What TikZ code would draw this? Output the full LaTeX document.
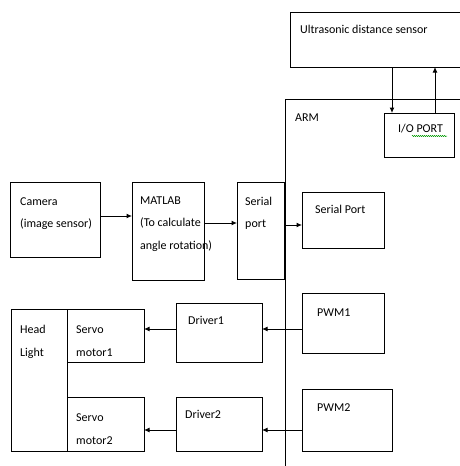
\documentclass[tikz,border=0pt]{standalone}
\usepackage{fontspec}
\setmainfont{Carlito}
\usetikzlibrary{arrows.meta,decorations.pathmorphing}
\begin{document}
\begin{tikzpicture}[x=1pt,y=-1pt,
  box/.style={draw, line width=1pt, inner sep=0pt, outer sep=0pt, anchor=north west},
  txt/.style={anchor=base west, inner sep=0pt, font=\fontsize{12}{14}\selectfont},
  arr/.style={-{Latex[length=5.5pt,width=5pt]}, line width=1pt}]
\useasboundingbox (0,0) rectangle (459,466);
% boxes
\node[box, minimum width=180pt, minimum height=55pt] (ultra) at (290,12) {};
\node[box, minimum width=185pt, minimum height=376pt] (arm) at (285,99) {};
\node[box, minimum width=70pt, minimum height=44pt] (io) at (384,113) {};
\node[box, minimum width=90pt, minimum height=75pt] (cam) at (10,182) {};
\node[box, minimum width=72pt, minimum height=98pt] (mat) at (132,182) {};
\node[box, minimum width=47pt, minimum height=97pt] (ser) at (237,182) {};
\node[box, minimum width=82pt, minimum height=56pt] (sp) at (302,192) {};
\node[box, minimum width=82pt, minimum height=60pt] (pwma) at (302,293) {};
\node[box, minimum width=90pt, minimum height=62pt] (pwmb) at (302,389) {};
\node[box, minimum width=56pt, minimum height=142pt] (hl) at (11,309) {};
\node[box, minimum width=77pt, minimum height=53pt] (sma) at (67,309) {};
\node[box, minimum width=77pt, minimum height=54pt] (smb) at (67,397) {};
\node[box, minimum width=86pt, minimum height=59pt] (dra) at (176,303) {};
\node[box, minimum width=86pt, minimum height=54pt] (drb) at (176,397) {};
% texts
\node[txt] (t1) at (300,33) {Ultrasonic distance sensor};
\node[txt] (t2) at (295,121) {ARM};
\node[txt] (t3) at (398,132) {I/O\ PORT};
\node[txt] (t4) at (20,205) {Camera};
\node[txt] (t5) at (20,227) {(image sensor)};
\node[txt] (t6) at (140,204) {MATLAB};
\node[txt] (t7) at (140,226) {(To calculate};
\node[txt] (t8) at (140,249) {angle rotation)};
\node[txt] (t9) at (245,205) {Serial};
\node[txt] (t10) at (245,227) {port};
\node[txt] (t11) at (315,213) {Serial Port};
\node[txt] (t12) at (317,316) {PWM1};
\node[txt] (t13) at (317,411) {PWM2};
\node[txt] (t14) at (20,333) {Head};
\node[txt] (t15) at (20,356) {Light};
\node[txt] (t16) at (76,333) {Servo};
\node[txt] (t17) at (76,356) {motor1};
\node[txt] (t18) at (76,421) {Servo};
\node[txt] (t19) at (76,444) {motor2};
\node[txt] (t20) at (188,324) {Driver1};
\node[txt] (t21) at (185,418) {Driver2};
% spell-check underline
\draw[green!60!black, line width=0.5pt, decorate, decoration={snake, segment length=2pt, amplitude=0.6pt}] (412,136) -- (447,136);
% connectors
\draw[arr] (ultra.south -| 392,0) -- (io.north -| 392,0);
\draw[arr] (io.north -| 435,0) -- (ultra.south -| 435,0);
\draw[arr] (cam.east |- 0,216) -- (mat.west |- 0,216);
\draw[arr] (mat.east |- 0,223) -- (ser.west |- 0,223);
\draw[arr] (ser.east |- 0,225) -- (sp.west |- 0,225);
\draw[arr] (pwma.west |- 0,329) -- (dra.east |- 0,329);
\draw[arr] (dra.west |- 0,329) -- (sma.east |- 0,329);
\draw[arr] (pwmb.west |- 0,430) -- (drb.east |- 0,430);
\draw[arr] (drb.west |- 0,430) -- (smb.east |- 0,430);
\end{tikzpicture}
\end{document}
